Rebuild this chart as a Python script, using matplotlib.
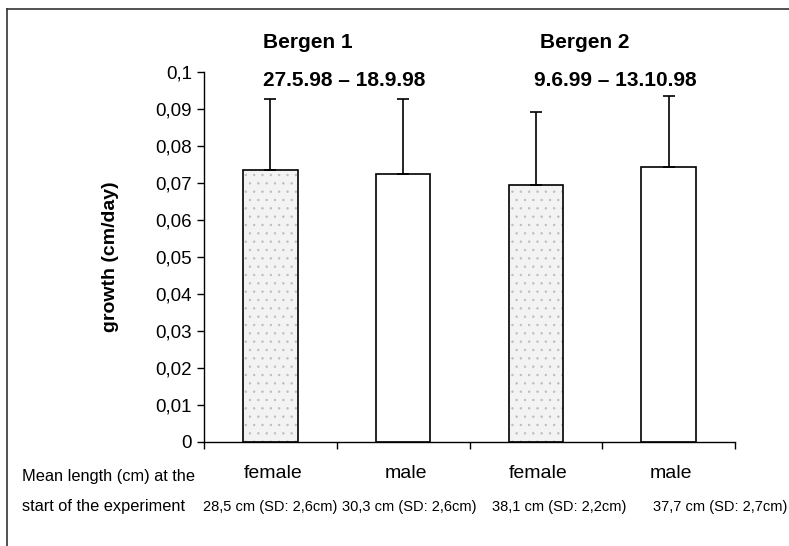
import numpy as np
import matplotlib
matplotlib.use("Agg")
import matplotlib.pyplot as plt
from matplotlib.lines import Line2D
from matplotlib.ticker import FuncFormatter

groups = ["female", "male", "female", "male"]
growth = [0.0734, 0.0723, 0.0694, 0.0742]
sd = [0.0191, 0.0202, 0.0197, 0.0192]
stippled = [True, False, True, False]
mean_length = ["28,5 cm (SD: 2,6cm)", "30,3 cm (SD: 2,6cm)",
               "38,1 cm (SD: 2,2cm)", "37,7 cm (SD: 2,7cm)"]
sites = ["Bergen 1", "Bergen 2"]
periods = ["27.5.98 \u2013 18.9.98", "9.6.99 \u2013 13.10.98"]

plt.rcParams["font.family"] = ["Liberation Sans", "DejaVu Sans"]
plt.rcParams["hatch.linewidth"] = 0.5

fig = plt.figure(figsize=(7.89, 5.46), dpi=100)
ax = fig.add_axes([0.2586, 0.191, 0.673, 0.6777])

x = np.arange(len(groups))
w = 0.41
for i in range(len(groups)):
    if stippled[i]:
        ax.bar(x[i], growth[i], w, color="#f3f3f3", hatch="..",
               edgecolor="#bdbdbd", linewidth=0, zorder=2)
    ax.bar(x[i], growth[i], w, fill=False, edgecolor="black",
           linewidth=1.2, zorder=3)
ax.errorbar(x, growth, yerr=[np.zeros(len(sd)), sd], fmt="none",
            ecolor="black", elinewidth=1.2, capsize=4, capthick=1.2, zorder=4)

ax.set_xlim(-0.5, 3.5)
ax.set_ylim(0, 0.1)
ax.set_yticks(np.arange(0, 0.1001, 0.01))
ax.yaxis.set_major_formatter(FuncFormatter(
    lambda v, p: "0" if abs(v) < 1e-9 else ("%g" % round(v, 2)).replace(".", ",")))
ax.set_xticks(np.arange(-0.5, 3.6, 1.0))
ax.set_xticklabels([])
ax.tick_params(axis="y", labelsize=13.5, length=5, width=1, direction="out")
ax.tick_params(axis="x", length=5, width=1, direction="out")
for s in ["top", "right"]:
    ax.spines[s].set_visible(False)
ax.spines["left"].set_linewidth(1)
ax.spines["bottom"].set_linewidth(1)
ax.set_ylabel("growth (cm/day)", fontsize=14, fontweight="bold", labelpad=26)

# category labels and mean length lines
for i, g in enumerate(groups):
    ax.text(x[i] + 0.02, -0.0085, g, ha="center", va="center", fontsize=14,
            transform=ax.transData)
fig.text(22 / 789, 1 - 476 / 546, "Mean length (cm) at the", ha="left",
         va="center", fontsize=11.8)
fig.text(22 / 789, 1 - 507 / 546, "start of the experiment", ha="left",
         va="center", fontsize=11.8)
length_x = [203, 342, 492, 787]
length_ha = ["left", "left", "left", "right"]
for lx, ha, t in zip(length_x, length_ha, mean_length):
    fig.text(lx / 789, 1 - 507 / 546, t, ha=ha, va="center", fontsize=10.5)

# site titles
site_x = [263, 540]
period_x = [263, 534]
for sx, px, s, p in zip(site_x, period_x, sites, periods):
    fig.text(sx / 789, 1 - 43 / 546, s, ha="left", va="center",
             fontsize=15, fontweight="bold")
    fig.text(px / 789, 1 - 80 / 546, p, ha="left", va="center",
             fontsize=15, fontweight="bold")

# outer frame
fig.add_artist(Line2D([7 / 789, 1], [1 - 9 / 546] * 2, color="#333333", lw=1.2))
fig.add_artist(Line2D([7 / 789] * 2, [0, 1 - 9 / 546], color="#333333", lw=1.2))

fig.savefig("out.png", dpi=100)
